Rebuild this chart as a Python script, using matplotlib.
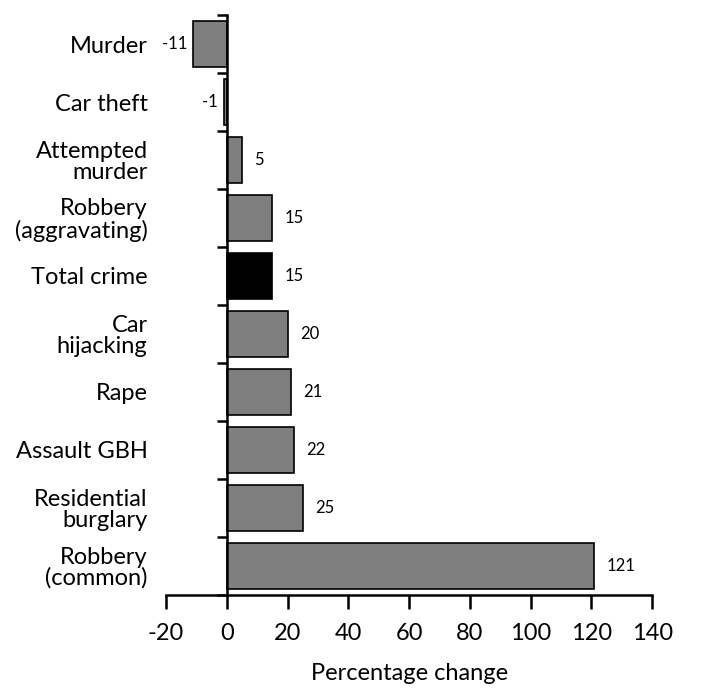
import matplotlib
matplotlib.use("Agg")
import matplotlib.pyplot as plt
from matplotlib.ticker import FixedLocator, NullFormatter

categories = ["Murder", "Car theft", "Attempted\nmurder", "Robbery\n(aggravating)",
              "Total crime", "Car\nhijacking", "Rape", "Assault GBH",
              "Residential\nburglary", "Robbery\n(common)"]
values = [-11, -1, 5, 15, 15, 20, 21, 22, 25, 121]
xticks = [-20, 0, 20, 40, 60, 80, 100, 120, 140]

plt.rcParams['font.family'] = ['Lato', 'DejaVu Sans']

fig = plt.figure(figsize=(7.14, 6.9), dpi=100)
ax = fig.add_axes([0.2325, 0.138, 0.681, 0.840])

n = len(categories)
ypos = list(range(n))
colors = ['#000000' if c == "Total crime" else '#7f7f7f' for c in categories]
ax.barh(ypos, values, height=0.8, color=colors, edgecolor='black', linewidth=1.2)

ax.set_ylim(n - 0.5, -0.5)
ax.set_xlim(-20, 140)

for y, v in zip(ypos, values):
    if v < 0:
        ax.annotate(f"{v}", (v, y), xytext=(-4, 0), textcoords='offset points',
                    ha='right', va='center', fontsize=12)
    else:
        ax.annotate(f"{v}", (v, y), xytext=(9, 0), textcoords='offset points',
                    ha='left', va='center', fontsize=12)

for s in ['top', 'right']:
    ax.spines[s].set_visible(False)
ax.spines['left'].set_position(('data', 0))
ax.spines['left'].set_linewidth(1.8)
ax.spines['bottom'].set_linewidth(1.8)

ax.set_yticks(ypos)
ax.set_yticklabels(categories, fontsize=17, linespacing=1.0, ha='right')
ax.tick_params(axis='y', which='major', length=0, pad=57)
ax.yaxis.set_minor_locator(FixedLocator([i - 0.5 for i in range(n + 1)]))
ax.yaxis.set_minor_formatter(NullFormatter())
ax.tick_params(axis='y', which='minor', length=7, width=1.8, direction='out')

ax.set_xticks(xticks)
ax.set_xticklabels([str(t) for t in xticks], fontsize=17)
ax.tick_params(axis='x', length=10, width=1.8, direction='out', pad=10)
ax.set_xlabel("Percentage change", fontsize=17, labelpad=14)

fig.savefig("out.png", dpi=100, facecolor='white')
